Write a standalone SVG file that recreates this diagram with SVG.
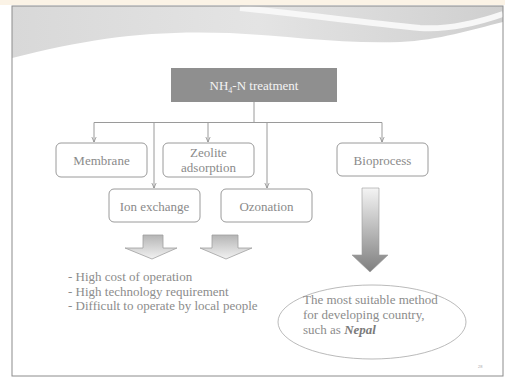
<svg xmlns="http://www.w3.org/2000/svg" width="505" height="378" viewBox="0 0 505 378">
<defs>
<style>
.box{fill:#fff;stroke:#9a9a9a;stroke-width:1}
.lbl{font-family:"Liberation Serif",serif;font-size:13px;fill:#8a8a8a;text-anchor:middle}
.txt{font-family:"Liberation Serif",serif;font-size:13px;fill:#8c8c8c}
.con{fill:none;stroke:#9a9a9a;stroke-width:1}
.blk{fill:url(#gSmall);stroke:#a0a0a0;stroke-width:0.8}
</style>
<marker id="ah" viewBox="0 0 8 8" refX="7" refY="4" markerWidth="6" markerHeight="6" orient="auto">
<path d="M0,1 L7,4 L0,7" fill="none" stroke="#8a8a8a" stroke-width="1"/>
</marker>
<linearGradient id="gSmall" x1="0" y1="0" x2="0" y2="1">
<stop offset="0" stop-color="#b5b5b5"/>
<stop offset="1" stop-color="#f2f2f2"/>
</linearGradient>
<linearGradient id="gBig" x1="0" y1="0" x2="0" y2="1">
<stop offset="0" stop-color="#f4f4f4"/>
<stop offset="1" stop-color="#7f7f7f"/>
</linearGradient>
<linearGradient id="gHead" x1="0" y1="0" x2="1" y2="0">
<stop offset="0" stop-color="#d8d8d8"/>
<stop offset="0.5" stop-color="#e4e4e4"/>
<stop offset="1" stop-color="#cfcfcf"/>
</linearGradient>
</defs>
<rect width="505" height="378" fill="#fff"/>
<rect x="0" y="0" width="505" height="5" fill="#fbf3e6"/>
<g id="background">
<path d="M12,6 H503 V22 C470,30 440,40 400,42 C340,44 290,36 230,33 C150,30 90,38 12,58 Z" fill="url(#gHead)"/>
<path d="M240,8 C300,14 360,22 420,28 C450,30 480,22 503,14" fill="none" stroke="#f7f7f7" stroke-width="6"/>
<rect x="12" y="6" width="491" height="370" fill="none" stroke="#8c8c8c" stroke-width="1"/>
</g>
<g id="connectors">
<path class="con" d="M254,102 V122.5"/>
<path class="con" d="M94,122.5 H382"/>
<path class="con" d="M94,122.5 V142" marker-end="url(#ah)"/>
<path class="con" d="M154,122.5 V188" marker-end="url(#ah)"/>
<path class="con" d="M208,122.5 V142" marker-end="url(#ah)"/>
<path class="con" d="M267,122.5 V188" marker-end="url(#ah)"/>
<path class="con" d="M382,122.5 V142" marker-end="url(#ah)"/>
</g>
<g id="root">
<rect x="171" y="68" width="166" height="34" fill="#8f8f8f"/>
<text x="254" y="90" font-family="'Liberation Serif',serif" font-size="13" fill="#f4f4f4" text-anchor="middle">NH<tspan font-size="8" dy="3">4</tspan><tspan dy="-3">-N treatment</tspan></text>
</g>
<g id="membrane">
<rect class="box" x="56" y="143" width="91" height="34" rx="5"/>
<text class="lbl" x="101.5" y="165">Membrane</text>
</g>
<g id="zeolite">
<rect class="box" x="163" y="143" width="91" height="34" rx="5"/>
<text class="lbl" x="208.5" y="157">Zeolite</text>
<text class="lbl" x="208.5" y="172">adsorption</text>
</g>
<g id="bioprocess">
<rect class="box" x="337" y="143" width="91" height="33" rx="5" stroke="#b0b0b0"/>
<text class="lbl" x="382.5" y="165">Bioprocess</text>
</g>
<g id="ion-exchange">
<rect class="box" x="109" y="189" width="91" height="33" rx="5"/>
<text class="lbl" x="154.5" y="211">Ion exchange</text>
</g>
<g id="ozonation">
<rect class="box" x="221" y="189" width="91" height="33" rx="5"/>
<text class="lbl" x="266.5" y="211">Ozonation</text>
</g>
<g id="arrow-left">
<path class="blk" d="M143,235 H163 V248 H177 L152,259 L125,248 H143 Z"/>
</g>
<g id="arrow-mid">
<path class="blk" d="M212,235 H238 V248 H252 L226,259 L200,248 H212 Z"/>
</g>
<g id="arrow-big">
<path d="M362,188 H379 V255 H388 L370,272 L352,255 H362 Z" fill="url(#gBig)" stroke="#9a9a9a" stroke-width="0.6"/>
</g>
<g id="drawbacks">
<text class="txt" x="68" y="281">- High cost of operation</text>
<text class="txt" x="68" y="296">- High technology requirement</text>
<text class="txt" x="68" y="310">- Difficult to operate by local people</text>
</g>
<g id="conclusion">
<ellipse cx="372" cy="322" rx="94" ry="37" fill="#fff" stroke="#a8a8a8" stroke-width="0.8"/>
<text class="txt" x="303" y="304" font-size="13.5">The most suitable method</text>
<text class="txt" x="303" y="319" font-size="13.5">for developing country,</text>
<text class="txt" x="303" y="334" font-size="13.5">such as <tspan font-weight="bold" font-style="italic" fill="#7a7a7a">Nepal</tspan></text>
</g>
<text x="478" y="368" font-family="'Liberation Sans',sans-serif" font-size="4" fill="#aaa">28</text>
</svg>
